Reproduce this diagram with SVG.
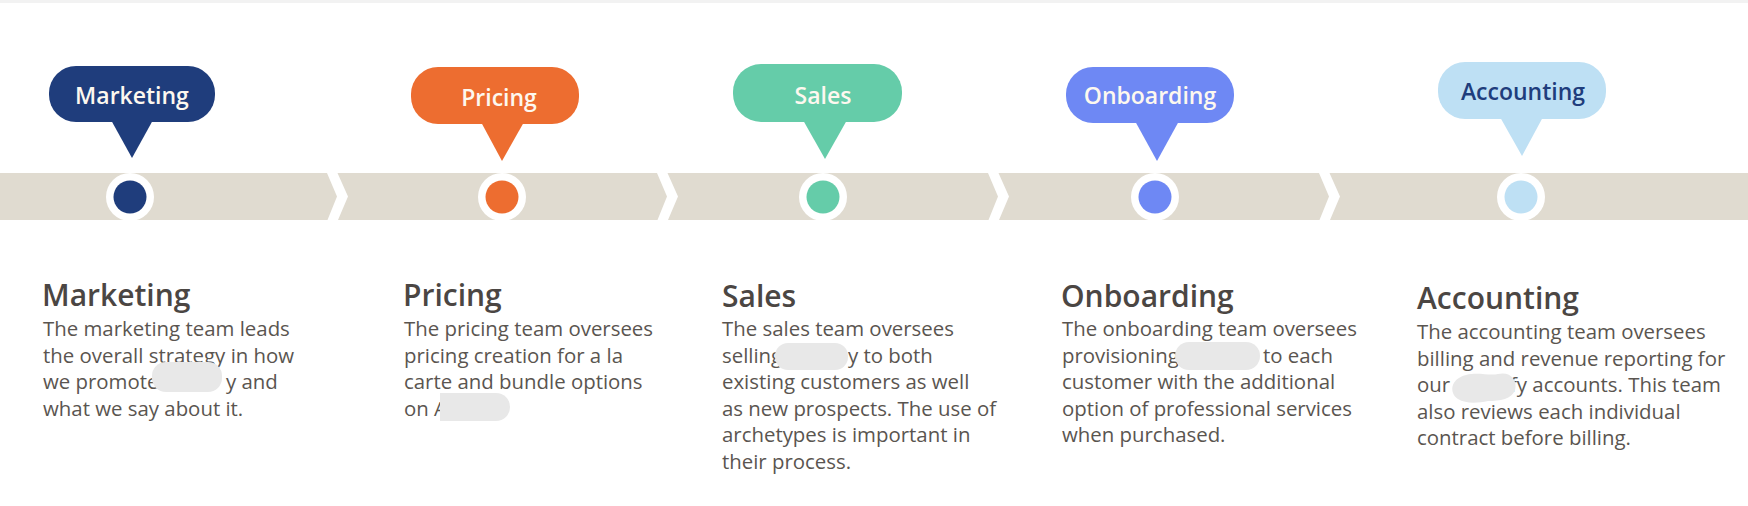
<svg xmlns="http://www.w3.org/2000/svg" width="1748" height="506" viewBox="0 0 1748 506">
<style>
.bt{font-family:"Open Sans","Noto Sans",sans-serif;font-size:23px;font-weight:600;text-anchor:middle;fill:#fdf8ef}
.hd{font-family:"Open Sans","Noto Sans",sans-serif;font-size:30px;font-weight:600;fill:#4b4643}
.bd{font-family:"Open Sans","Noto Sans",sans-serif;font-size:20.4px;font-weight:400;fill:#5a5550}
.ring{fill:#ffffff}
.red{fill:#e8e8e8}
.chev{fill:#ffffff}
</style>
<rect x="0" y="0" width="1748" height="506" fill="#ffffff"/>
<rect x="0" y="0" width="1748" height="3" fill="#f2f2f2"/>
<g id="connectors">
<rect x="0" y="173" width="1748" height="47" fill="#e0dbd0"/>
<polygon class="chev" points="327,173 337.5,173 348,196.5 338,220 327.5,220 337,196.5"/>
<polygon class="chev" points="657,173 667.5,173 678,196.5 668,220 657.5,220 667,196.5"/>
<polygon class="chev" points="988,173 998.5,173 1009,196.5 999,220 988.5,220 998,196.5"/>
<polygon class="chev" points="1319,173 1329.5,173 1340,196.5 1330,220 1319.5,220 1329,196.5"/>
</g>
<g id="node-marketing">
<rect x="49" y="66" width="166" height="56" rx="27" fill="#1f3d7c"/>
<polygon points="111,120 153,120 132,158" fill="#1f3d7c"/>
<text class="bt" x="132" y="104">Marketing</text>
<circle class="ring" cx="130" cy="197" r="24"/>
<circle cx="130" cy="197" r="16.5" fill="#1f3d7c"/>
<text class="hd" x="42" y="306">Marketing</text>
<text class="bd" x="43" y="336">The marketing team leads</text>
<text class="bd" x="43" y="362.5">the overall strategy in how</text>
<text class="bd" x="43" y="389">we promote</text>
<text class="bd" x="226" y="389">y and</text>
<text class="bd" x="43" y="415.5">what we say about it.</text>
<rect class="red" x="152" y="362" width="70" height="30" rx="14"/>
</g>
<g id="node-pricing">
<rect x="411" y="67" width="168" height="57" rx="27" fill="#ed6d30"/>
<polygon points="481,122 524,122 502,161" fill="#ed6d30"/>
<text class="bt" x="499" y="106">Pricing</text>
<circle class="ring" cx="502" cy="197" r="24"/>
<circle cx="502" cy="197" r="16.5" fill="#ed6d30"/>
<text class="hd" x="403" y="306">Pricing</text>
<text class="bd" x="404" y="336">The pricing team oversees</text>
<text class="bd" x="404" y="362.5">pricing creation for a la</text>
<text class="bd" x="404" y="389">carte and bundle options</text>
<text class="bd" x="404" y="415.5">on A</text>
<path class="red" d="M440,393 H496 A14,14 0 0 1 510,407 A14,14 0 0 1 496,421 H440 Z"/>
</g>
<g id="node-sales">
<rect x="733" y="64" width="169" height="58" rx="28" fill="#65cca9"/>
<polygon points="803,120 847,120 825,159" fill="#65cca9"/>
<text class="bt" x="823" y="104">Sales</text>
<circle class="ring" cx="823" cy="197" r="24"/>
<circle cx="823" cy="197" r="16.5" fill="#65cca9"/>
<text class="hd" x="722" y="307">Sales</text>
<text class="bd" x="722" y="336">The sales team oversees</text>
<text class="bd" x="722" y="362.5">selling</text>
<text class="bd" x="848" y="362.5">y to both</text>
<text class="bd" x="722" y="389">existing customers as well</text>
<text class="bd" x="722" y="415.5">as new prospects. The use of</text>
<text class="bd" x="722" y="442">archetypes is important in</text>
<text class="bd" x="722" y="468.5">their process.</text>
<rect class="red" x="775" y="343" width="73" height="27" rx="13"/>
</g>
<g id="node-onboarding">
<rect x="1066" y="67" width="168" height="56" rx="27" fill="#6e88f4"/>
<polygon points="1135,121 1179,121 1157,161" fill="#6e88f4"/>
<text class="bt" x="1150" y="104">Onboarding</text>
<circle class="ring" cx="1155" cy="197" r="24"/>
<circle cx="1155" cy="197" r="16.5" fill="#6e88f4"/>
<text class="hd" x="1061" y="307">Onboarding</text>
<text class="bd" x="1062" y="336">The onboarding team oversees</text>
<text class="bd" x="1062" y="362.5">provisioning</text>
<text class="bd" x="1263" y="362.5">to each</text>
<text class="bd" x="1062" y="389">customer with the additional</text>
<text class="bd" x="1062" y="415.5">option of professional services</text>
<text class="bd" x="1062" y="442">when purchased.</text>
<rect class="red" x="1175" y="342" width="85" height="28" rx="14"/>
</g>
<g id="node-accounting">
<rect x="1438" y="62" width="168" height="57" rx="27" fill="#bee0f4"/>
<polygon points="1500,117 1543,117 1522,156" fill="#bee0f4"/>
<text class="bt" x="1523" y="100" style="fill:#1f3d7c">Accounting</text>
<circle class="ring" cx="1521" cy="197" r="24"/>
<circle cx="1521" cy="197" r="16.5" fill="#bee0f4"/>
<text class="hd" x="1417" y="309">Accounting</text>
<text class="bd" x="1417" y="339">The accounting team oversees</text>
<text class="bd" x="1417" y="365.5">billing and revenue reporting for</text>
<text class="bd" x="1417" y="392">our</text>
<text class="bd" x="1510" y="392">fy accounts. This team</text>
<text class="bd" x="1417" y="418.5">also reviews each individual</text>
<text class="bd" x="1417" y="445">contract before billing.</text>
<path class="red" d="M1466,375 C1478,372 1490,376 1498,374 C1510,371 1518,380 1515,390 C1512,399 1500,401 1488,401 C1478,403 1466,404 1458,399 C1449,393 1450,379 1466,375 Z"/>
</g>
</svg>
